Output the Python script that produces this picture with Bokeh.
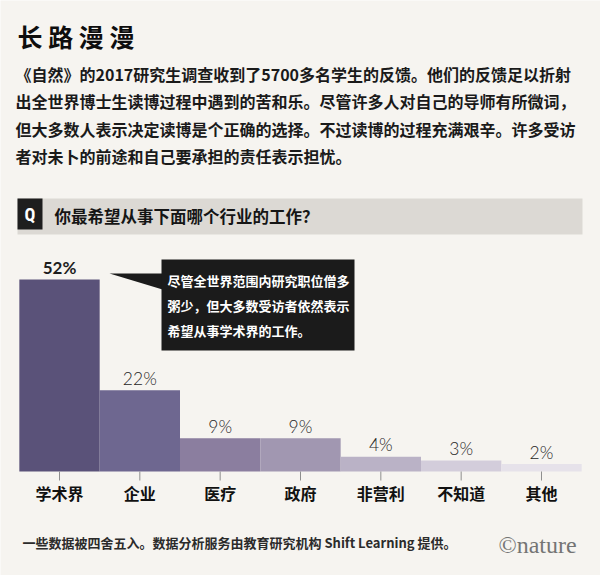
from bokeh.plotting import figure
from bokeh.models import FactorRange, Range1d, ColumnDataSource
from bokeh.core.properties import value
from bokeh.embed import file_html
from bokeh.resources import INLINE

# ---------------- data ----------------
categories = ["学术界", "企业", "医疗", "政府", "非营利", "不知道", "其他"]
shares = [52, 22, 9, 9, 4, 3, 2]
share_labels = ["52%", "22%", "9%", "9%", "4%", "3%", "2%"]
bar_colors = ["#5a5279", "#6e6790", "#8b7e9f", "#a197b1", "#bab2c6", "#d3cddb", "#e6e2ea"]

title_text = "长 路 漫 漫"
intro_lines = [
    "《自然》的2017研究生调查收到了5700多名学生的反馈。他们的反馈足以折射",
    "出全世界博士生读博过程中遇到的苦和乐。尽管许多人对自己的导师有所微词，",
    "但大多数人表示决定读博是个正确的选择。不过读博的过程充满艰辛。许多受访",
    "者对未卜的前途和自己要承担的责任表示担忧。",
]
question_tag = "Q"
question_text = "你最希望从事下面哪个行业的工作？"
callout_lines = [
    "尽管全世界范围内研究职位僧多",
    "粥少，但大多数受访者依然表示",
    "希望从事学术界的工作。",
]
footnote = "一些数据被四舍五入。数据分析服务由教育研究机构 Shift Learning 提供。"
credit = "©nature"

# ---------------- layout ----------------
W, H = 600, 575          # figure size
OFF = 0                  # page offset of the figure
BASE_PX = 471            # page y of the bar baseline
TOP_PX = 279             # page y of the tallest bar top
PAD = 0.2345             # factor padding on each side
N = len(categories)

unit = (BASE_PX - TOP_PX) / max(shares)       # px per percent
y_hi = (BASE_PX - OFF) / unit
y_lo = -(H - (BASE_PX - OFF)) / unit


def fx(px):
    return (px - OFF) / W * (N + 2 * PAD) - PAD


def fy(py):
    return y_hi - (py - OFF) / H * (y_hi - y_lo)


BG = "#f6f4f0"
CJK = value("Noto Sans CJK SC")

p = figure(
    width=W, height=H,
    x_range=FactorRange(factors=categories, range_padding=PAD, range_padding_units="absolute"),
    y_range=Range1d(y_lo, y_hi),
    x_axis_type=None, y_axis_type=None,
    output_backend="svg", toolbar_location=None,
    min_border=0, min_border_left=0, min_border_right=0, min_border_top=0, min_border_bottom=0,
)
p.background_fill_color = BG
p.border_fill_color = BG
p.outline_line_color = None
p.grid.visible = False

# title and intro
p.text(x=[fx(17)], y=[fy(35)], text=[title_text], text_font=CJK, text_font_style="bold",
       text_font_size="25px", text_color="#0e0e0e", text_align="left", text_baseline="middle")
intro_y = [fy(73 + 27.5 * i) for i in range(len(intro_lines))]
p.text(x=[fx(15)] * len(intro_lines), y=intro_y, text=intro_lines, text_font=CJK,
       text_font_style="bold", text_font_size="16px", text_color="#1a1a1a",
       text_align="left", text_baseline="middle")

# question band
p.quad(left=[fx(17)], right=[fx(582)], top=[fy(198)], bottom=[fy(234)],
       fill_color="#dcd9d4", line_color=None)
p.quad(left=[fx(17)], right=[fx(42)], top=[fy(198)], bottom=[fy(229)],
       fill_color="#1e1e1e", line_color=None)
p.text(x=[fx(29.5)], y=[fy(213.5)], text=[question_tag], text_font=value("Roboto Condensed, Roboto"),
       text_font_style="bold", text_font_size="18px", text_color="white",
       text_align="center", text_baseline="middle")
p.text(x=[fx(54)], y=[fy(215)], text=[question_text], text_font=CJK, text_font_style="bold",
       text_font_size="16.5px", text_color="#151515", text_align="left", text_baseline="middle")

# bars
src = ColumnDataSource(dict(cat=categories, share=shares, lab=share_labels, color=bar_colors))
p.vbar(x="cat", top="share", bottom=0, width=1.0, fill_color="color", line_color=None, source=src)

# value labels
p.text(x=categories[:1], y=shares[:1], text=share_labels[:1], y_offset=-12,
       text_font=value("Lato"), text_font_style="bold", text_font_size="17px",
       text_color="#1e1e1e", text_align="center", text_baseline="middle")
p.text(x=categories[1:], y=shares[1:], text=share_labels[1:], y_offset=-12,
       text_font=value("Lato Light"), text_font_size="17.5px",
       text_color="#262626", text_align="center", text_baseline="middle")

# ticks and category labels
tick_len = 9 / unit
p.segment(x0=categories, y0=[0] * N, x1=categories, y1=[-tick_len] * N,
          line_color="#8e8e8e", line_width=1)
p.text(x=categories, y=[fy(492)] * N, text=categories, text_font=CJK, text_font_style="bold",
       text_font_size="16px", text_color="#111111", text_align="center", text_baseline="middle")

# callout
p.patch(x=[fx(109), fx(162), fx(162)], y=[fy(273), fy(273), fy(289)],
        fill_color="#1b1b1b", line_color=None)
p.quad(left=[fx(161)], right=[fx(354)], top=[fy(259)], bottom=[fy(350)],
       fill_color="#1b1b1b", line_color=None)
p.text(x=[fx(167)] * len(callout_lines), y=[fy(280 + 25 * i) for i in range(len(callout_lines))],
       text=callout_lines, text_font=CJK, text_font_style="bold", text_font_size="13px",
       text_color="white", text_align="left", text_baseline="middle")

# footer
p.text(x=[fx(22)], y=[fy(542)], text=[footnote], text_font=CJK, text_font_style="bold",
       text_font_size="13px", text_color="#2b2b2b", text_align="left", text_baseline="middle")
p.text(x=[fx(537)], y=[fy(544)], text=[credit], text_font=value("Liberation Serif"),
       text_font_size="24px", text_color="#747474", text_align="center", text_baseline="middle")

open("out.html", "w").write(file_html(p, INLINE))
